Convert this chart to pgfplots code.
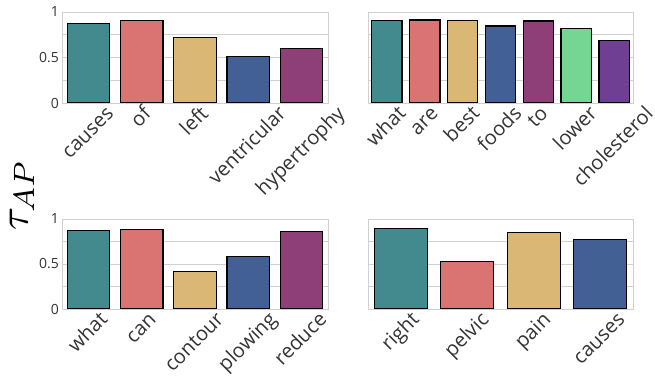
\documentclass[border=0pt]{standalone}
\usepackage{fontspec}
\setmainfont{Open Sans}
\usepackage{pgfplots}
\pgfplotsset{compat=1.18}
\definecolor{cA}{HTML}{438A8E}
\definecolor{cB}{HTML}{D97473}
\definecolor{cC}{HTML}{DAB774}
\definecolor{cD}{HTML}{426094}
\definecolor{cE}{HTML}{8F3F78}
\definecolor{cF}{HTML}{74D692}
\definecolor{cG}{HTML}{6E3F92}
\definecolor{gridc}{HTML}{D0D0D0}
\newcommand{\rl}[1]{\rotatebox{45}{\rule[-0.24em]{0pt}{1.0em}#1}}
\pgfplotsset{mystyle/.style={
  scale only axis,
  ymin=0, ymax=1, ytick={0,0.5,1}, minor ytick={0.25,0.75},
  ymajorgrids, yminorgrids,
  grid style={draw=gridc, line width=0.8pt},
  minor grid style={draw=gridc, line width=0.8pt},
  axis line style={draw=gridc, line width=0.8pt},
  major tick length=0pt, minor tick length=0pt,
  ybar, bar width=0.8,
  xticklabel style={anchor=north, font=\fontsize{20}{20}\selectfont, inner sep=1pt, text=black!80},
  yticklabel style={font=\fontsize{14}{14}\selectfont, inner sep=3pt, text=black!80},
  /pgf/number format/assume math mode=true,
  anchor=south west,
}}
\pgfplotsset{bstyle/.style={ybar, bar shift=0pt, draw=black, line width=1.2pt, fill=#1}}
\begin{document}
\begin{tikzpicture}
\useasboundingbox (0,0) rectangle (655pt,377pt);
% top left
\begin{axis}[mystyle, at={(62pt,274pt)}, width=266pt, height=91pt,
  xmin=-0.5, xmax=4.5, xtick={0,1,2,3,4},
  xticklabels={\rl{causes},\rl{of},\rl{left},\rl{ventricular},\rl{hypertrophy}}]
\addplot[bstyle=cA] coordinates {(0,0.876)};
\addplot[bstyle=cB] coordinates {(1,0.905)};
\addplot[bstyle=cC] coordinates {(2,0.72)};
\addplot[bstyle=cD] coordinates {(3,0.51)};
\addplot[bstyle=cE] coordinates {(4,0.60)};
\end{axis}
% top right
\begin{axis}[mystyle, at={(368pt,274pt)}, width=265pt, height=91pt,
  xmin=-0.5, xmax=6.5, xtick={0,1,2,3,4,5,6}, yticklabels={},
  xticklabels={\rl{what},\rl{are},\rl{best},\rl{foods},\rl{to},\rl{lower},\rl{cholesterol}}]
\addplot[bstyle=cA] coordinates {(0,0.905)};
\addplot[bstyle=cB] coordinates {(1,0.912)};
\addplot[bstyle=cC] coordinates {(2,0.908)};
\addplot[bstyle=cD] coordinates {(3,0.846)};
\addplot[bstyle=cE] coordinates {(4,0.90)};
\addplot[bstyle=cF] coordinates {(5,0.82)};
\addplot[bstyle=cG] coordinates {(6,0.69)};
\end{axis}
% bottom left
\begin{axis}[mystyle, at={(62pt,68pt)}, width=266pt, height=90pt,
  xmin=-0.5, xmax=4.5, xtick={0,1,2,3,4},
  xticklabels={\rl{what},\rl{can},\rl{contour},\rl{plowing},\rl{reduce}}]
\addplot[bstyle=cA] coordinates {(0,0.874)};
\addplot[bstyle=cB] coordinates {(1,0.88)};
\addplot[bstyle=cC] coordinates {(2,0.42)};
\addplot[bstyle=cD] coordinates {(3,0.58)};
\addplot[bstyle=cE] coordinates {(4,0.86)};
\end{axis}
% bottom right
\begin{axis}[mystyle, at={(368pt,68pt)}, width=265pt, height=90pt,
  xmin=-0.5, xmax=3.5, xtick={0,1,2,3}, yticklabels={},
  xticklabels={\rl{right},\rl{pelvic},\rl{pain},\rl{causes}}]
\addplot[bstyle=cA] coordinates {(0,0.89)};
\addplot[bstyle=cB] coordinates {(1,0.53)};
\addplot[bstyle=cC] coordinates {(2,0.85)};
\addplot[bstyle=cD] coordinates {(3,0.775)};
\end{axis}
\node[rotate=90, scale=4.2, inner sep=0pt] at (22pt,182pt) {$\tau_{AP}$};
\end{tikzpicture}
\end{document}
